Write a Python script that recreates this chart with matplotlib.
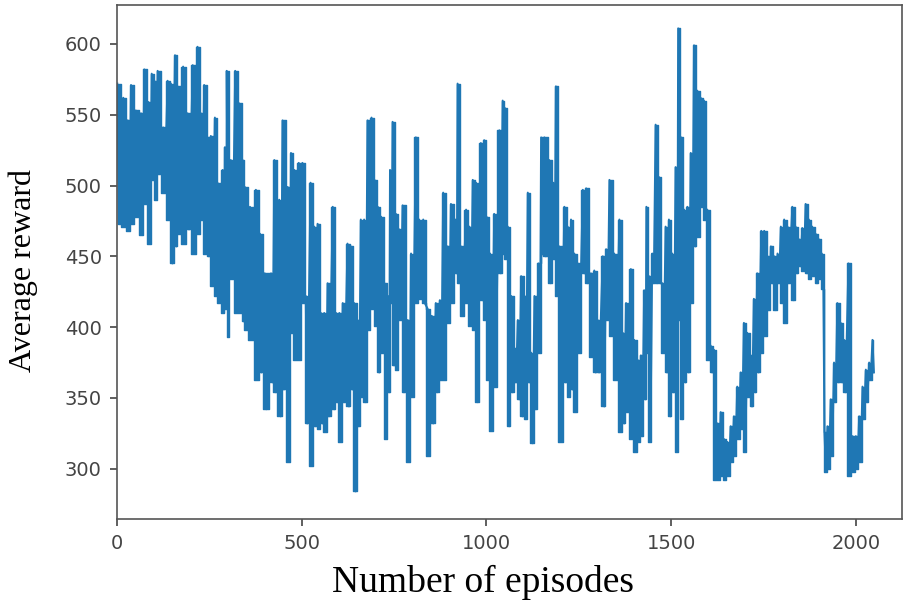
import matplotlib
matplotlib.use("Agg")
import matplotlib.pyplot as plt

# bin centres (episodes) with the top and bottom of the noisy trace in each bin
episodes = [
    3, 19, 31, 40, 53, 67, 76, 87, 96, 103, 112, 127, 139, 148, 159, 166, 181, 193, 207, 220,
    229, 238, 247, 256, 267, 274, 288, 294, 299, 310, 322, 333, 342,
    348, 362, 378, 389, 402, 419, 428, 441, 450, 464, 473, 482, 494, 504, 513, 526, 536, 545,
    554, 563, 572, 586, 595, 604, 613, 626, 635, 644, 653, 662, 671, 680, 691,
    699, 708, 717, 726, 735, 741, 748, 757, 766, 775, 789, 798, 811, 820, 831, 843, 854, 865,
    876, 885, 897, 906, 918, 924, 933, 947, 956, 965, 974, 987, 996, 1002, 1012, 1023, 1037, 1046,
    1051, 1060, 1069, 1078, 1087, 1096, 1105, 1114, 1123, 1132, 1143, 1150, 1159, 1172, 1183,
    1190, 1199, 1213, 1222, 1231, 1240, 1249, 1263, 1272, 1285, 1294, 1303, 1317, 1326, 1335,
    1348, 1362, 1371, 1380, 1393,
    1402, 1411, 1420, 1429, 1435, 1442, 1451, 1460, 1469, 1478, 1487, 1496, 1505, 1514, 1521,
    1529, 1537, 1546, 1555, 1564, 1573, 1582, 1591, 1600, 1609, 1618, 1627, 1636, 1645, 1654,
    1663, 1672, 1681, 1690, 1699, 1708, 1717, 1726, 1735, 1746,
    1754, 1763, 1772, 1781, 1790, 1799, 1808, 1817, 1830, 1839, 1848, 1857, 1866, 1875, 1884,
    1893, 1902, 1910, 1917, 1925, 1934, 1943, 1952, 1961, 1970, 1982, 1993, 2002, 2011, 2020,
    2029, 2038, 2047,
]
reward_high = [
    572, 562, 546, 571, 553, 551, 582, 559, 579, 574, 581, 541, 574, 572, 592, 570, 584, 551, 585, 598,
    551, 571, 534, 535, 548, 502, 511, 527, 581, 518, 581, 558, 518,
    499, 485, 497, 466, 438, 438, 518, 490, 546, 499, 523, 511, 516, 516, 422, 502, 471, 473,
    410, 410, 431, 485, 410, 410, 417, 459, 457, 417, 405, 476, 476, 546, 548,
    504, 485, 478, 431, 422, 511, 545, 480, 469, 486, 405, 452, 534, 476, 476, 413, 408, 417,
    419, 495, 457, 487, 476, 572, 457, 483, 471, 504, 502, 530, 532, 478, 452, 480, 539, 560,
    555, 471, 422, 385, 405, 436, 422, 495, 382, 422, 445, 534, 534, 518, 502,
    570, 457, 485, 471, 476, 452, 445, 497, 498, 438, 440, 405, 450, 455, 504,
    452, 476, 396, 417, 441,
    391, 377, 380, 426, 485, 436, 452, 543, 506, 431, 471, 476, 452, 513, 611,
    534, 483, 485, 523, 599, 567, 562, 560, 483, 387, 384, 332, 340, 321, 319,
    330, 337, 358, 368, 403, 396, 380, 420, 438, 468,
    468, 450, 457, 450, 452, 471, 476, 471, 485, 471, 462, 470, 487, 476, 471,
    466, 462, 452, 326, 330, 349, 375, 417, 403, 391, 445, 323, 323, 337, 358,
    370, 375, 391,
]
reward_low = [
    473, 471, 468, 473, 478, 465, 487, 459, 504, 490, 508, 495, 476, 445, 457, 466, 459, 469, 452, 466,
    476, 452, 450, 429, 422, 417, 410, 413, 393, 434, 410, 410, 404,
    398, 391, 363, 368, 342, 361, 354, 337, 356, 305, 396, 377, 377, 417, 332, 302, 330, 328,
    332, 326, 337, 342, 347, 319, 347, 344, 356, 284, 330, 351, 347, 398, 413,
    401, 368, 382, 321, 354, 417, 373, 370, 405, 354, 305, 351, 417, 420, 417, 309, 332, 354,
    363, 363, 403, 417, 438, 431, 408, 417, 401, 398, 347, 419, 405, 363, 327, 358, 438, 452,
    448, 330, 354, 361, 349, 337, 335, 361, 318, 342, 382, 452, 450, 431, 448,
    422, 319, 361, 351, 356, 340, 382, 438, 431, 379, 368, 368, 344, 405, 394,
    363, 326, 332, 340, 321,
    312, 319, 323, 349, 382, 319, 431, 431, 431, 382, 368, 337, 354, 312, 405,
    335, 361, 368, 417, 457, 464, 485, 476, 377, 368, 292, 292, 295, 292, 295,
    305, 309, 321, 328, 312, 351, 344, 354, 368, 382,
    394, 412, 431, 412, 431, 417, 403, 431, 419, 438, 443, 440, 438, 434, 436,
    431, 434, 427, 298, 300, 309, 347, 361, 361, 354, 295, 298, 300, 305, 335,
    347, 363, 368,
]

blue = '#1f77b4'

fig = plt.figure(figsize=(9.04, 6.01), dpi=100)
ax = fig.add_axes([0.1294, 0.1364, 0.8684, 0.8553])

# the trace is so dense it reads as a band between the per-bin extremes
ax.fill_between(episodes, reward_low, reward_high, step='mid',
                facecolor=blue, edgecolor=blue, lw=1.0)

xs, ys = [], []
for ep, hi, lo in zip(episodes, reward_high, reward_low):
    xs += [ep - 2, ep + 2]
    ys += [hi, lo]
ax.plot(xs, ys, color=blue, lw=1.4)

ax.set_xlim(0, 2125)
ax.set_ylim(264.5, 627.5)
ax.set_xticks([0, 500, 1000, 1500, 2000])
ax.set_yticks(range(300, 601, 50))
ax.tick_params(labelsize=14, colors='#444444', length=5, width=1.2, pad=6)
for spine in ax.spines.values():
    spine.set_color('#555555')
    spine.set_linewidth(1.2)

ax.set_xlabel('Number of episodes', fontsize=27, family='Liberation Serif')
ax.xaxis.set_label_coords(0.4668, -0.09)
ax.set_ylabel('Average reward', fontsize=23, family='Liberation Serif')
ax.yaxis.set_label_coords(-0.100, 0.484)

plt.savefig('out.png', dpi=100)
